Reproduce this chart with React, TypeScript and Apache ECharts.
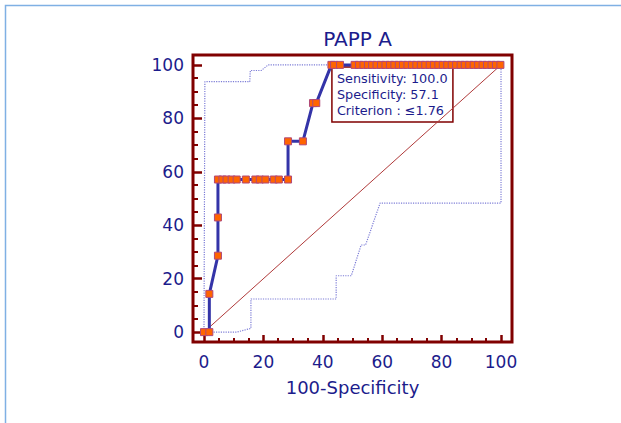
import React, { useEffect, useRef } from "react";
import * as echarts from "echarts";

// ---- data ----
const majorTicks = [0, 20, 40, 60, 80, 100];
const minorTicks = [5, 10, 15, 25, 30, 35, 45, 50, 55, 65, 70, 75, 85, 90, 95];

const rocX = [
  0, 1.8, 1.8, 4.7, 4.7, 4.7, 6.2, 7.6, 9.3, 11.0, 14.1, 17.3, 18.8, 20.7, 23.5, 25.2, 28.3,
  28.3, 33.3, 36.7, 37.8,
  42.9, 43.8, 45.8, 50.7, 52.2, 53.7, 55.2, 56.6, 58.1, 59.6, 61.1, 62.6, 64.1, 65.6, 67.0,
  68.5, 70.0, 71.5, 73.0, 74.5, 76.0, 77.4, 78.9, 80.4, 81.9, 83.4, 84.9, 86.4, 87.8, 89.3,
  90.8, 92.3, 93.8, 95.3, 96.8, 98.3, 99.8,
];
const rocY = [
  0, 0, 14.3, 28.6, 42.9, 57.1, 57.1, 57.1, 57.1, 57.1, 57.1, 57.1, 57.1, 57.1, 57.1, 57.1, 57.1,
  71.4, 71.4, 85.7, 85.7,
  100, 100, 100, 100, 100, 100, 100, 100, 100, 100, 100, 100, 100, 100, 100, 100,
  100, 100, 100, 100, 100, 100, 100, 100, 100, 100, 100, 100, 100, 100, 100,
  100, 100, 100, 100, 100, 100, 100,
];

const upperX = [0, 0.3, 15.4, 15.6, 19.3, 21.6, 100];
const upperY = [0, 93.7, 93.7, 97.9, 97.9, 100, 100];

const lowerX = [0, 11.0, 15.8, 15.8, 44.5, 44.5, 49.6, 52.9, 54.4, 59.3, 100, 100];
const lowerY = [0, 0, 1.4, 12.4, 12.4, 21.1, 21.1, 32.6, 32.6, 48.3, 48.3, 100];

const refX = [0, 100];
const refY = [0, 100];

const criterionX = 42.9;
const criterionY = 100;
const boxLines = ["Sensitivity: 100.0", "Specificity: 57.1", "Criterion : \u22641.76"];

const titleText = "PAPP A";
const xName = "100-Specificity";

// ---- styles ----
const NAVY = "#1c1c8c";
const FRAME = "#800000";
const FONT = "DejaVu Sans";

const zip = (xs: number[], ys: number[]) => xs.map((x, i) => [x, ys[i]]);

export default function App() {
  const ref = useRef<HTMLDivElement>(null);

  useEffect(() => {
    if (!ref.current) return;
    const chart = echarts.init(ref.current, null, { renderer: "svg" });

    const baseAxis = (extra: any) => ({
      type: "value",
      min: -3.7,
      max: 103.7,
      splitLine: { show: false },
      axisLine: { show: false, onZero: false },
      ...extra,
    });

    chart.setOption({
      animation: false,
      backgroundColor: "#ffffff",
      title: {
        text: titleText,
        left: 352.5,
        top: 24,
        textAlign: "center",
        textStyle: { fontSize: 20, fontWeight: "normal", color: NAVY, fontFamily: FONT },
      },
      grid: {
        left: 193,
        top: 55,
        right: 109,
        bottom: 81,
        show: true,
        borderColor: FRAME,
        borderWidth: 3,
        backgroundColor: "transparent",
      },
      xAxis: [
        baseAxis({
          position: "bottom",
          name: xName,
          nameLocation: "middle",
          nameGap: 36,
          nameTextStyle: { fontSize: 18, color: NAVY, fontFamily: FONT },
          axisTick: {
            show: true,
            inside: true,
            length: 7,
            customValues: majorTicks,
            lineStyle: { color: FRAME, width: 2.5 },
          },
          axisLabel: {
            customValues: majorTicks,
            fontSize: 17,
            color: NAVY,
            fontFamily: FONT,
            margin: 11,
          },
        }),
        baseAxis({
          position: "bottom",
          axisTick: {
            show: true,
            inside: true,
            length: 4,
            customValues: minorTicks,
            lineStyle: { color: FRAME, width: 2 },
          },
          axisLabel: { show: false },
        }),
      ],
      yAxis: [
        baseAxis({
          position: "left",
          axisTick: {
            show: true,
            inside: true,
            length: 9,
            customValues: majorTicks,
            lineStyle: { color: FRAME, width: 2.5 },
          },
          axisLabel: {
            customValues: majorTicks,
            fontSize: 17,
            color: NAVY,
            fontFamily: FONT,
            margin: 9,
          },
        }),
        baseAxis({
          position: "left",
          axisTick: {
            show: true,
            inside: true,
            length: 5,
            customValues: minorTicks,
            lineStyle: { color: FRAME, width: 2 },
          },
          axisLabel: { show: false },
        }),
      ],
      series: [
        {
          type: "line",
          data: zip(refX, refY),
          showSymbol: false,
          lineStyle: { color: "#b03a3a", width: 1 },
          z: 1,
        },
        {
          type: "line",
          data: zip(upperX, upperY),
          showSymbol: false,
          lineStyle: { color: "#7c7cd6", width: 1.2, type: "dotted" },
          z: 2,
        },
        {
          type: "line",
          data: zip(lowerX, lowerY),
          showSymbol: false,
          lineStyle: { color: "#7c7cd6", width: 1.2, type: "dotted" },
          z: 2,
        },
        {
          type: "line",
          data: zip(rocX, rocY),
          symbol: "rect",
          symbolSize: 7,
          showAllSymbol: true,
          lineStyle: { color: "#3434a8", width: 3 },
          itemStyle: { color: "#ff6400", borderColor: "#b04878", borderWidth: 1 },
          z: 3,
        },
      ],
    });

    const [px, py] = chart.convertToPixel({ gridIndex: 0 }, [criterionX, criterionY]) as number[];
    const bx = px + 0.5;
    const by = py + 2;
    chart.setOption({
      graphic: [
        {
          type: "rect",
          shape: { x: 5.5, y: 5.5, width: 800, height: 600 },
          style: { fill: "none", stroke: "#7fb0e4", lineWidth: 1.5 },
          silent: true,
          z: -10,
        },
        {
          type: "group",
          x: bx,
          y: by,
          z: 100,
          children: [
            {
              type: "rect",
              shape: { x: 0, y: 0, width: 121, height: 55 },
              style: { fill: "#ffffff", stroke: FRAME, lineWidth: 1.5 },
            },
            ...boxLines.map((t, i) => ({
              type: "text",
              x: 5,
              y: 12 + i * 16,
              style: {
                text: t,
                fill: NAVY,
                font: `12.8px "${FONT}"`,
                verticalAlign: "middle",
              },
            })),
          ],
        },
      ],
    });

    return () => chart.dispose();
  }, []);

  return (
    <div
      ref={ref}
      style={{ position: "fixed", left: 0, top: 0, width: 621, height: 423, background: "#fff" }}
    />
  );
}
